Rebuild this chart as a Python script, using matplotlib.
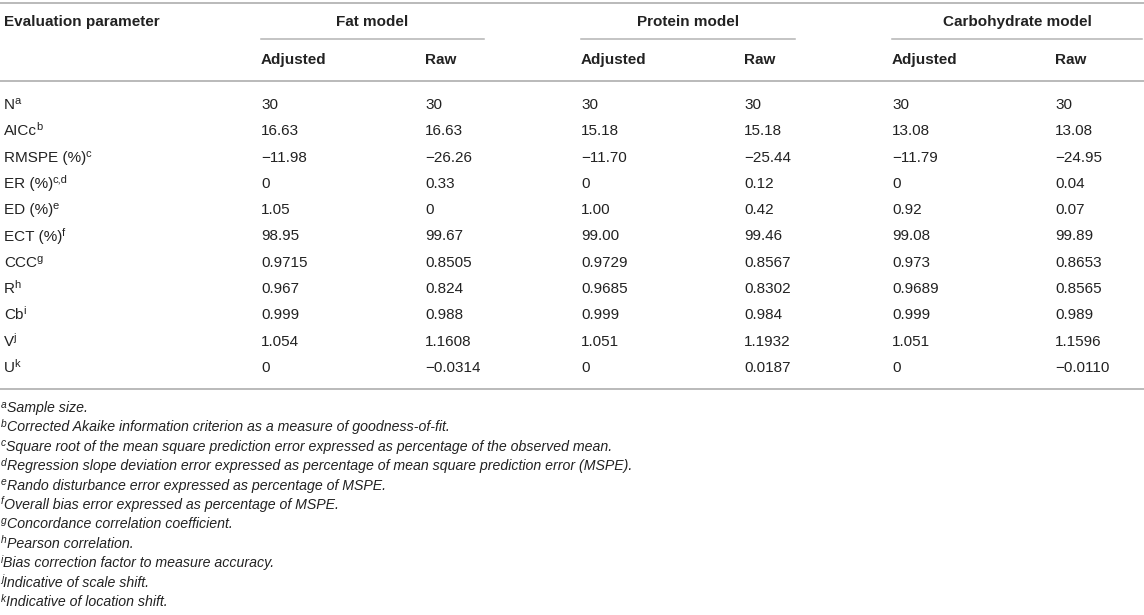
import matplotlib
matplotlib.use('Agg')
import matplotlib.pyplot as plt

plt.rcParams['font.family'] = ['Liberation Sans', 'DejaVu Sans']

# table content
params = ['N', 'AICc', 'RMSPE (%)', 'ER (%)', 'ED (%)', 'ECT (%)', 'CCC', 'R', 'Cb', 'V', 'U']
param_notes = ['a', 'b', 'c', 'c,d', 'e', 'f', 'g', 'h', 'i', 'j', 'k']
models = ['Fat model', 'Protein model', 'Carbohydrate model']
subcols = ['Adjusted', 'Raw']

fat_adj = ['30', '16.63', '\u221211.98', '0', '1.05', '98.95', '0.9715', '0.967', '0.999', '1.054', '0']
fat_raw = ['30', '16.63', '\u221226.26', '0.33', '0', '99.67', '0.8505', '0.824', '0.988', '1.1608', '\u22120.0314']
prot_adj = ['30', '15.18', '\u221211.70', '0', '1.00', '99.00', '0.9729', '0.9685', '0.999', '1.051', '0']
prot_raw = ['30', '15.18', '\u221225.44', '0.12', '0.42', '99.46', '0.8567', '0.8302', '0.984', '1.1932', '0.0187']
carb_adj = ['30', '13.08', '\u221211.79', '0', '0.92', '99.08', '0.973', '0.9689', '0.999', '1.051', '0']
carb_raw = ['30', '13.08', '\u221224.95', '0.04', '0.07', '99.89', '0.8653', '0.8565', '0.989', '1.1596', '\u22120.0110']

footnote_keys = ['a', 'b', 'c', 'd', 'e', 'f', 'g', 'h', 'i', 'j', 'k']
footnotes = [
    'Sample size.',
    'Corrected Akaike information criterion as a measure of goodness-of-fit.',
    'Square root of the mean square prediction error expressed as percentage of the observed mean.',
    'Regression slope deviation error expressed as percentage of mean square prediction error (MSPE).',
    'Rando disturbance error expressed as percentage of MSPE.',
    'Overall bias error expressed as percentage of MSPE.',
    'Concordance correlation coefficient.',
    'Pearson correlation.',
    'Bias correction factor to measure accuracy.',
    'Indicative of scale shift.',
    'Indicative of location shift.',
]

columns = [fat_adj, fat_raw, prot_adj, prot_raw, carb_adj, carb_raw]

# layout (pixel units)
W, H = 1144, 615
col_x = [261, 425, 581, 744, 892, 1055]
group_lines = [(261, 484), (581, 795), (892, 1142)]
txt = '#222222'
rule = '#b4b4b4'
fs = 11
fs_sup = 8
fs_note = 10.2

fig = plt.figure(figsize=(W / 100, H / 100), dpi=100)
ax = fig.add_axes([0, 0, 1, 1])
ax.set_xlim(0, W)
ax.set_ylim(H, 0)
ax.axis('off')
renderer = fig.canvas.get_renderer()


def width_of(t):
    return t.get_window_extent(renderer=renderer).width


# rules
ax.plot([0, W], [3, 3], color=rule, lw=1.3)
ax.plot([0, W], [81, 81], color=rule, lw=1.3)
ax.plot([0, W], [389, 389], color=rule, lw=1.3)
for x0, x1 in group_lines:
    ax.plot([x0, x1], [39, 39], color=rule, lw=1.1)

# headers
ax.text(4, 26, 'Evaluation parameter', fontsize=fs, fontweight='bold', color=txt, va='baseline')
for (x0, x1), m in zip(group_lines, models):
    ax.text((x0 + x1) / 2, 26, m, fontsize=fs, fontweight='bold', color=txt, ha='center', va='baseline')
for i, x in enumerate(col_x):
    ax.text(x, 64, subcols[i % 2], fontsize=fs, fontweight='bold', color=txt, va='baseline')

# body rows
row_step = 26.3
for r, (p, note) in enumerate(zip(params, param_notes)):
    y = 109 + r * row_step
    t = ax.text(4, y, p, fontsize=fs, color=txt, va='baseline')
    ax.text(4 + width_of(t) - 0.5, y - 5, note, fontsize=fs_sup, color=txt, va='baseline')
    for x, col in zip(col_x, columns):
        ax.text(x, y, col[r], fontsize=fs, color=txt, va='baseline')

# footnotes
note_step = 19.4
for k, (key, note) in enumerate(zip(footnote_keys, footnotes)):
    y = 412 + k * note_step
    s = ax.text(1, y - 4.5, key, fontsize=7.4, style='italic', color=txt, va='baseline')
    ax.text(1 + width_of(s), y, note, fontsize=fs_note, style='italic', color=txt, va='baseline')

fig.savefig('out.png', dpi=100)
